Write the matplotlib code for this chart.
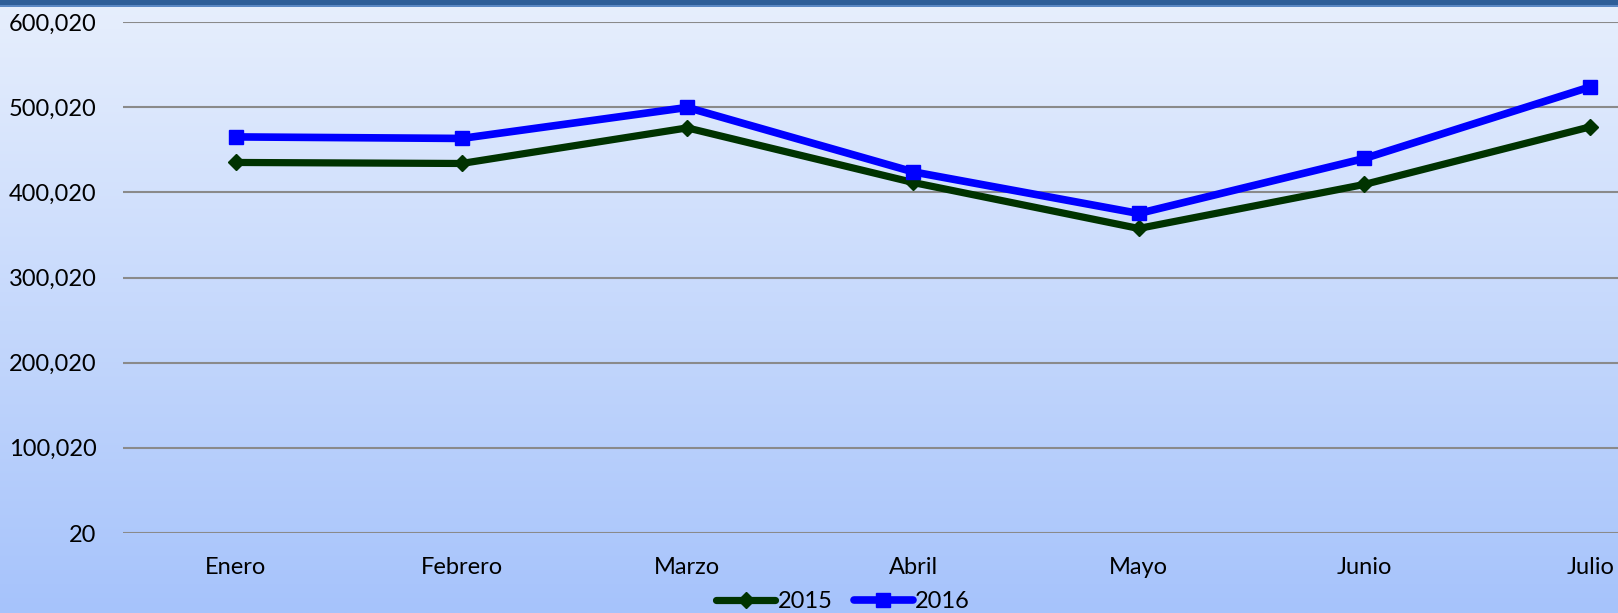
import numpy as np
import matplotlib
matplotlib.use("Agg")
import matplotlib.pyplot as plt
from matplotlib.ticker import FuncFormatter
from matplotlib.patches import Rectangle

plt.rcParams['font.family'] = ['Lato', 'DejaVu Sans']

months = ["Enero", "Febrero", "Marzo", "Abril", "Mayo", "Junio", "Julio"]
values_2015 = [435100, 433900, 475700, 411600, 357600, 409300, 476900]
values_2016 = [465100, 463300, 499700, 424100, 375200, 439800, 523800]
y_ticks = [20, 100020, 200020, 300020, 400020, 500020, 600020]


def main():
    fig = plt.figure(figsize=(16.18, 6.13), dpi=100)

    # background gradient over the whole figure
    bg = fig.add_axes([0, 0, 1, 1], zorder=-10)
    top = np.array([0xe7, 0xef, 0xfd]) / 255
    bottom = np.array([0xa6, 0xc3, 0xfb]) / 255
    t = np.linspace(0, 1, 256)[:, None]
    grad = top * (1 - t[..., None]) + bottom * t[..., None]
    grad = np.repeat(grad, 2, axis=1)
    bg.imshow(grad, aspect='auto', extent=[0, 1, 0, 1])
    bg.set_axis_off()

    # top border band
    fig.patches.append(Rectangle((0, 1 - 5 / 613), 1, 5 / 613, transform=fig.transFigure,
                                 facecolor='#2e5e98', edgecolor='none', zorder=5))
    fig.patches.append(Rectangle((0, 1 - 7 / 613), 1, 2 / 613, transform=fig.transFigure,
                                 facecolor='#5b88c4', edgecolor='none', zorder=5))

    ax = fig.add_axes([123 / 1618, 1 - 533 / 613, 1580 / 1618, 511 / 613])
    ax.set_facecolor('none')
    x = np.arange(len(months))

    ax.plot(x, values_2015, color='#003300', linewidth=5.2, marker='D', markersize=8.5,
            label="2015", zorder=3, solid_joinstyle='round', solid_capstyle='round')
    ax.plot(x, values_2016, color='#0000ff', linewidth=5.5, marker='s', markersize=9.5,
            label="2016", zorder=4, solid_joinstyle='round', solid_capstyle='round')

    ax.set_xlim(-0.5, len(months) - 0.5)
    ax.set_ylim(20, 600020)
    ax.set_yticks(y_ticks)
    ax.yaxis.set_major_formatter(FuncFormatter(lambda v, p: f"{int(round(v)):,}"))
    ax.set_xticks(x)
    ax.set_xticklabels(months)
    ax.tick_params(axis='both', length=0, labelsize=17, colors='black')
    ax.tick_params(axis='y', pad=19)
    ax.tick_params(axis='x', pad=17)
    ax.grid(axis='y', color='#8a8a8a', linewidth=1.5)
    ax.set_axisbelow(True)
    for s in ax.spines.values():
        s.set_visible(False)

    fig.legend(loc='center', bbox_to_anchor=(0.521, 0.018), ncol=2, frameon=False,
               fontsize=17, handlelength=2.5, handletextpad=0.1, columnspacing=0.9,
               numpoints=1, borderpad=0)

    plt.savefig("out.png", dpi=100)


if __name__ == '__main__':
    main()
